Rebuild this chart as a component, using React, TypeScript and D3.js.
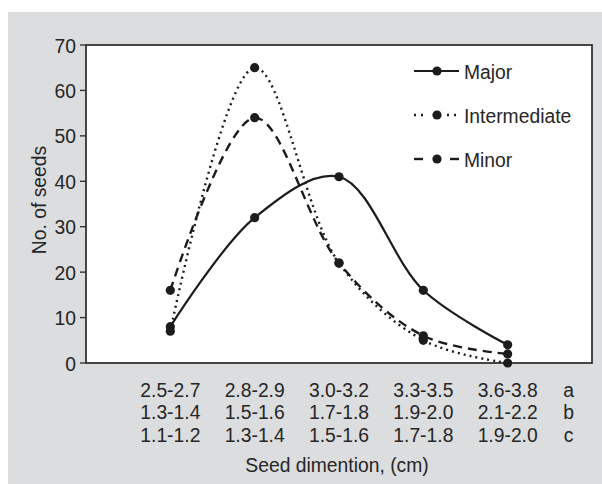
import React from "react";
import * as d3 from "d3";

const categoriesA = ["2.5-2.7", "2.8-2.9", "3.0-3.2", "3.3-3.5", "3.6-3.8"];
const categoriesB = ["1.3-1.4", "1.5-1.6", "1.7-1.8", "1.9-2.0", "2.1-2.2"];
const categoriesC = ["1.1-1.2", "1.3-1.4", "1.5-1.6", "1.7-1.8", "1.9-2.0"];
const rowLabels = ["a", "b", "c"];
const major = [8, 32, 41, 16, 4];
const intermediate = [7, 65, 22, 5, 0];
const minor = [16, 54, 22, 6, 2];
const yTicks = [0, 10, 20, 30, 40, 50, 60, 70];

const seriesNames = ["Major", "Intermediate", "Minor"];

const W = 602;
const H = 484;
const left = 86;
const right = 592;
const top = 45;
const bottom = 363;
const FONT = "'Liberation Sans', Arial, sans-serif";
const TEXT = "#262626";
const INK = "#1c1c1c";
const FS = 21;
const SX = 0.92;

function T(props: { x: number; y: number; anchor?: string; dy?: string; rotate?: number; children: React.ReactNode }) {
  const { x, y, anchor = "start", dy, rotate = 0, children } = props;
  return (
    <text
      transform={`translate(${x},${y}) rotate(${rotate}) scale(${SX},1)`}
      dy={dy}
      textAnchor={anchor}
      fontFamily={FONT}
      fontSize={FS}
      fill={TEXT}
    >
      {children}
    </text>
  );
}

export default function App() {
  const x = d3.scaleLinear().domain([-1, 5]).range([left, right]);
  const y = d3.scaleLinear().domain([0, 70]).range([bottom, top]);
  const line = d3
    .line<number>()
    .x((_, i) => x(i))
    .y((d) => y(d))
    .curve(d3.curveCatmullRom.alpha(0.5));

  const series = [
    { name: seriesNames[0], values: major, dash: undefined as string | undefined, width: 2.2 },
    { name: seriesNames[1], values: intermediate, dash: "2 4", width: 2.4 },
    { name: seriesNames[2], values: minor, dash: "9 6", width: 2.4 },
  ];
  const rows = [categoriesA, categoriesB, categoriesC];
  const rowY = [397, 419, 442];
  const legendY = [71, 115, 159];

  return (
    <svg width={W} height={H} style={{ position: "absolute", left: 0, top: 0 }}>
      <rect x={8} y={12} width={W - 8} height={H - 12} fill="#dcdddf" />
      <rect x={left} y={top} width={right - left} height={bottom - top} fill="#ffffff" stroke="#333" strokeWidth={1.8} />
      {yTicks.map((t) => (
        <g key={t}>
          <line x1={80} x2={left} y1={y(t)} y2={y(t)} stroke="#333" strokeWidth={1.4} />
          <T x={76} y={y(t)} dy="0.36em" anchor="end">{t}</T>
        </g>
      ))}
      <T x={38} y={(top + bottom) / 2 - 4} dy="0.36em" anchor="middle" rotate={-90}>No. of seeds</T>
      {rows.map((r, ri) => (
        <g key={ri}>
          {r.map((c, i) => (
            <T key={i} x={x(i)} y={rowY[ri]} anchor="middle">{c}</T>
          ))}
          <T x={x(4) + 61} y={rowY[ri]} anchor="middle">{rowLabels[ri]}</T>
        </g>
      ))}
      <T x={337} y={472} anchor="middle">Seed dimention, (cm)</T>
      {series.map((s) => (
        <g key={s.name}>
          <path d={line(s.values) || ""} fill="none" stroke={INK} strokeWidth={s.width} strokeDasharray={s.dash} />
          {s.values.map((v, i) => (
            <circle key={i} cx={x(i)} cy={y(v)} r={4.6} fill={INK} />
          ))}
        </g>
      ))}
      <g>
        <line x1={414} x2={459} y1={legendY[0]} y2={legendY[0]} stroke={INK} strokeWidth={2.2} />
        <circle cx={437} cy={legendY[0]} r={4.6} fill={INK} />
        <T x={464} y={legendY[0]} dy="0.36em">{seriesNames[0]}</T>

        <line x1={414} x2={428} y1={legendY[1]} y2={legendY[1]} stroke={INK} strokeWidth={2.4} strokeDasharray="2 5" />
        <line x1={447} x2={461} y1={legendY[1]} y2={legendY[1]} stroke={INK} strokeWidth={2.4} strokeDasharray="2 5" />
        <circle cx={437} cy={legendY[1]} r={4.6} fill={INK} />
        <T x={464} y={legendY[1]} dy="0.36em">{seriesNames[1]}</T>

        <line x1={414} x2={423} y1={legendY[2]} y2={legendY[2]} stroke={INK} strokeWidth={2.4} />
        <line x1={450} x2={459} y1={legendY[2]} y2={legendY[2]} stroke={INK} strokeWidth={2.4} />
        <circle cx={437} cy={legendY[2]} r={4.6} fill={INK} />
        <T x={464} y={legendY[2]} dy="0.36em">{seriesNames[2]}</T>
      </g>
    </svg>
  );
}
